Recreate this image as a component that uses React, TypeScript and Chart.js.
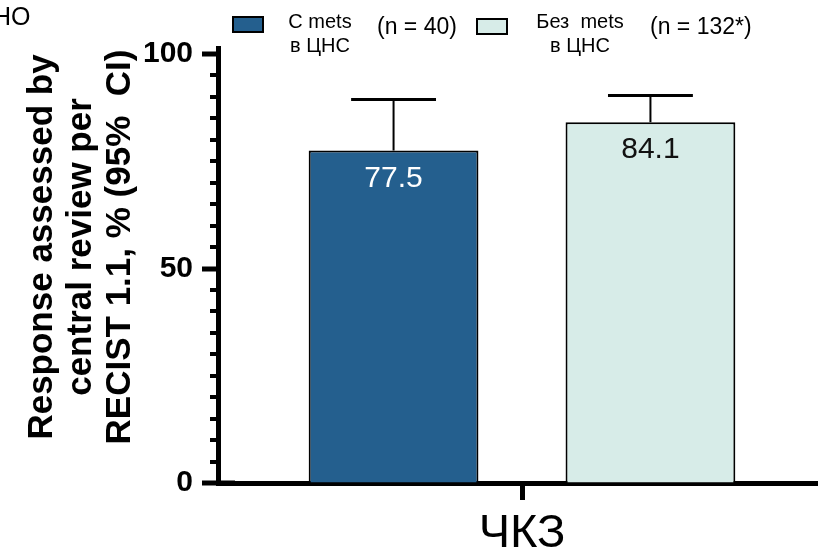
import { useEffect, useRef } from 'react';
import { Chart, registerables } from 'chart.js';

Chart.register(...registerables);

// ---- data ----
const categories = ['ЧКЗ'];
const seriesNames = [
  ['С mets', 'в ЦНС'],
  ['Без  mets', 'в ЦНС'],
];
const seriesCounts = ['(n = 40)', '(n = 132*)'];
const withMetsValues = [77.5];
const withoutMetsValues = [84.1];
const withMetsUpperCI = [89.4];
const withoutMetsUpperCI = [90.3];
const yMajorTicks = [0, 50, 100];
const yMinorStep = 5;
const yAxisTitle = ['Response assessed by', 'central review per', 'RECIST 1.1, % (95%  CI)'];
const cornerText = 'НО';

const FONT = '"Liberation Sans", Arial, Helvetica, sans-serif';
const BAR_COLORS = ['#245F8E', '#D7ECE8'];
const VALUE_COLORS = ['#ffffff', '#111111'];

const upperCI = [withMetsUpperCI, withoutMetsUpperCI];

const decorations = {
  id: 'decorations',
  afterDatasetsDraw(chart: any) {
    const ctx = chart.ctx;
    const y = chart.scales.y;
    chart.data.datasets.forEach((ds: any, di: number) => {
      const meta = chart.getDatasetMeta(di);
      meta.data.forEach((bar: any, i: number) => {
        const top = y.getPixelForValue(upperCI[di][i]);
        const half = bar.width / 4;
        ctx.save();
        ctx.strokeStyle = '#000';
        ctx.lineWidth = 2;
        ctx.beginPath();
        ctx.moveTo(bar.x, bar.y);
        ctx.lineTo(bar.x, top);
        ctx.stroke();
        ctx.lineWidth = 3;
        ctx.beginPath();
        ctx.moveTo(bar.x - half, top);
        ctx.lineTo(bar.x + half, top);
        ctx.stroke();
        // value label inside the bar
        ctx.fillStyle = VALUE_COLORS[di];
        ctx.font = `30px ${FONT}`;
        ctx.textAlign = 'center';
        ctx.textBaseline = 'alphabetic';
        ctx.fillText(String(ds.data[i]), bar.x, bar.y + 36);
        ctx.restore();
      });
    });
  },
  afterDraw(chart: any) {
    const ctx = chart.ctx;
    const y = chart.scales.y;
    const axisX = chart.chartArea.left;
    ctx.save();
    // y-axis tick marks: long at labelled values, short in between
    ctx.fillStyle = '#000';
    for (let v = 0; v <= 100; v += yMinorStep) {
      const py = Math.round(y.getPixelForValue(v));
      if (yMajorTicks.includes(v)) {
        const right = v === 0 ? axisX + 17 : axisX;
        ctx.fillRect(axisX - 16, py - 2.5, right - (axisX - 16), 5);
      } else {
        ctx.fillRect(axisX - 8, py - 2, 8, 4);
      }
    }

    // rotated y-axis title
    ctx.font = `bold 35px ${FONT}`;
    ctx.textAlign = 'center';
    ctx.textBaseline = 'middle';
    const centers = [42, 81, 120];
    yAxisTitle.forEach((line, k) => {
      ctx.save();
      ctx.translate(centers[k], 247);
      ctx.rotate(-Math.PI / 2);
      ctx.fillText(line, 0, 0);
      ctx.restore();
    });

    // legend
    const items = [
      { box: [233, 17], textCx: 320, countX: 377 },
      { box: [477, 19], textCx: 580, countX: 650 },
    ];
    items.forEach((it, k) => {
      ctx.fillStyle = BAR_COLORS[k];
      ctx.fillRect(it.box[0], it.box[1], 30, 15);
      ctx.strokeStyle = '#000';
      ctx.lineWidth = 2;
      ctx.strokeRect(it.box[0], it.box[1], 30, 15);
      ctx.fillStyle = '#000';
      ctx.font = `20px ${FONT}`;
      ctx.textAlign = 'center';
      ctx.textBaseline = 'alphabetic';
      ctx.fillText(seriesNames[k][0], it.textCx, 28);
      ctx.fillText(seriesNames[k][1], it.textCx, 52);
      ctx.font = `23px ${FONT}`;
      ctx.textAlign = 'left';
      ctx.fillText(seriesCounts[k], it.countX, 34);
    });

    // clipped heading fragment in the corner
    ctx.font = `25px ${FONT}`;
    ctx.textAlign = 'left';
    ctx.fillText(cornerText, -7, 25);
    ctx.restore();
  },
};

export default function App() {
  const ref = useRef<HTMLCanvasElement>(null);

  useEffect(() => {
    const canvas = ref.current;
    if (!canvas) return;
    const chart = new Chart(canvas, {
      type: 'bar',
      data: {
        labels: categories,
        datasets: [
          {
            label: seriesNames[0].join(' '),
            data: withMetsValues,
            backgroundColor: BAR_COLORS[0],
            borderColor: '#000',
            borderWidth: 2,
          },
          {
            label: seriesNames[1].join(' '),
            data: withoutMetsValues,
            backgroundColor: BAR_COLORS[1],
            borderColor: '#000',
            borderWidth: 2,
          },
        ],
      },
      options: {
        responsive: false,
        animation: false,
        devicePixelRatio: 1,
        layout: { padding: { top: 48, left: 0, right: 0, bottom: 0 } },
        datasets: { bar: { categoryPercentage: 0.845, barPercentage: 0.661 } },
        plugins: { legend: { display: false }, tooltip: { enabled: false } },
        scales: {
          x: {
            grid: {
              display: true,
              drawOnChartArea: false,
              offset: false,
              tickLength: 17,
              tickWidth: 5,
              tickColor: '#000',
            },
            border: { display: true, color: '#000', width: 5 },
            ticks: {
              color: '#000',
              font: { family: FONT, size: 47 },
              padding: 6,
            },
            afterFit: (s: any) => {
              s.height = 73;
            },
          },
          y: {
            min: 0,
            max: 101.4,
            grid: {
              display: true,
              drawOnChartArea: false,
              tickLength: 17,
              tickColor: 'rgba(0,0,0,0)',
            },
            border: { display: true, color: '#000', width: 5 },
            afterBuildTicks: (s: any) => {
              s.ticks = yMajorTicks.map((v) => ({ value: v }));
            },
            ticks: {
              color: '#000',
              font: { family: FONT, size: 30, weight: 'bold' },
              padding: 8,
            },
            afterFit: (s: any) => {
              s.width = 218;
            },
          },
        },
      },
      plugins: [decorations],
    });
    return () => chart.destroy();
  }, []);

  return (
    <div
      style={{
        position: 'fixed',
        left: 0,
        top: 0,
        width: 818,
        height: 556,
        overflow: 'hidden',
        background: '#fff',
      }}
    >
      <canvas ref={ref} width={826} height={556} style={{ display: 'block' }} />
    </div>
  );
}
